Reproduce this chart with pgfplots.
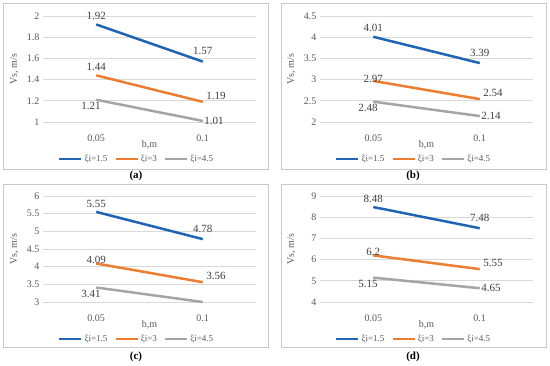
\documentclass[border=0pt]{standalone}
\usepackage{pgfplots}
\pgfplotsset{compat=1.18}
\usepackage{fontspec}
\setmainfont{Liberation Serif}
\definecolor{cblue}{RGB}{32,100,182}
\definecolor{corange}{RGB}{237,125,49}
\definecolor{cgray}{RGB}{165,165,165}
\definecolor{gridc}{RGB}{217,217,217}
\definecolor{tickc}{RGB}{89,89,89}
\definecolor{lblc}{RGB}{64,64,64}
\definecolor{boxc}{RGB}{200,200,200}
\pgfplotsset{panel/.style={
  scale only axis, width=213pt, height=106pt,
  xmin=-0.5, xmax=1.5, xtick={0,1}, xticklabels={0.05,0.1},
  axis line style={draw=none}, ymajorgrids,
  grid style={draw=gridc, line width=0.7pt},
  major tick length=0pt,
  tick label style={font=\fontsize{10}{11}\selectfont, text=tickc},
  xticklabel style={yshift=-9pt},
  /pgf/number format/assume math mode=true,
  ylabel={Vs, m/s}, xlabel={b,m},
  label style={font=\fontsize{10}{11}\selectfont, text=tickc},
  ylabel style={at={(axis description cs:-0.135,0.5)}, anchor=center},
  xlabel style={at={(axis description cs:0.5,-0.215)}, anchor=center},
  clip=false,
  legend style={draw=none, fill=none, legend columns=3,
    font=\fontsize{9}{10}\selectfont, text=tickc,
    at={(axis description cs:0.44,-0.35)}, anchor=center,
    /tikz/every even column/.append style={column sep=5pt}},
  legend image code/.code={\draw[##1, line width=2.4pt] (0pt,0pt) -- (22pt,0pt);},
  every axis plot/.append style={line width=2.5pt, mark=none},
}}
\tikzset{lbl/.style={font=\fontsize{11}{12}\selectfont, text=lblc, inner sep=1.5pt},
  ab/.style={anchor=south, yshift=#1},
  ar/.style={anchor=south west, xshift=2pt, yshift=1pt},
  bl/.style={anchor=north east, xshift=6pt, yshift=-1pt},
  rt/.style={anchor=west}}
\begin{document}
\begin{tikzpicture}
\useasboundingbox (0,0) rectangle (550pt,-365pt);
\fill[white] (0,0) rectangle (550pt,-365pt);
\draw[boxc, line width=0.6pt] (3pt,-3pt) rectangle (268pt,-169pt);
\draw[boxc, line width=0.6pt] (281pt,-3pt) rectangle (546pt,-169pt);
\draw[boxc, line width=0.6pt] (3pt,-184pt) rectangle (268pt,-347pt);
\draw[boxc, line width=0.6pt] (281pt,-184pt) rectangle (546pt,-347pt);
\node[font=\bfseries\fontsize{11}{12}\selectfont] at (136pt,-176pt) {(a)};
\node[font=\bfseries\fontsize{11}{12}\selectfont] at (413pt,-176pt) {(b)};
\node[font=\bfseries\fontsize{11}{12}\selectfont] at (136pt,-357pt) {(c)};
\node[font=\bfseries\fontsize{11}{12}\selectfont] at (413pt,-357pt) {(d)};

% (a)
\begin{axis}[panel, at={(43pt,-122pt)}, anchor=south west,
  ymin=1, ymax=2, ytick={1,1.2,1.4,1.6,1.8,2}, yticklabels={1,1.2,1.4,1.6,1.8,2}]
\addplot[cblue] coordinates {(0,1.92) (1,1.57)};
\addplot[corange] coordinates {(0,1.44) (1,1.19)};
\addplot[cgray] coordinates {(0,1.21) (1,1.01)};
\legend{ξi=1.5, ξi=3, ξi=4.5}
\node[lbl, ab=3pt] at (axis cs:0,1.92) {1.92};
\node[lbl, ab=5pt] at (axis cs:1,1.57) {1.57};
\node[lbl, ab=3pt] at (axis cs:0,1.44) {1.44};
\node[lbl, ar] at (axis cs:1,1.19) {1.19};
\node[lbl, bl] at (axis cs:0,1.21) {1.21};
\node[lbl, rt] at (axis cs:1,1.01) {1.01};
\end{axis}

% (b)
\begin{axis}[panel, at={(320pt,-122pt)}, anchor=south west,
  ymin=2, ymax=4.5, ytick={2,2.5,3,3.5,4,4.5}, yticklabels={2,2.5,3,3.5,4,4.5}]
\addplot[cblue] coordinates {(0,4.01) (1,3.39)};
\addplot[corange] coordinates {(0,2.97) (1,2.54)};
\addplot[cgray] coordinates {(0,2.48) (1,2.14)};
\legend{ξi=1.5, ξi=3, ξi=4.5}
\node[lbl, ab=3pt] at (axis cs:0,4.01) {4.01};
\node[lbl, ab=5pt] at (axis cs:1,3.39) {3.39};
\node[lbl, ab=-3pt] at (axis cs:0,2.97) {2.97};
\node[lbl, ar] at (axis cs:1,2.54) {2.54};
\node[lbl, bl] at (axis cs:0,2.48) {2.48};
\node[lbl, rt] at (axis cs:1,2.14) {2.14};
\end{axis}

% (c)
\begin{axis}[panel, at={(43pt,-302pt)}, anchor=south west,
  ymin=3, ymax=6, ytick={3,3.5,4,4.5,5,5.5,6}, yticklabels={3,3.5,4,4.5,5,5.5,6}]
\addplot[cblue] coordinates {(0,5.55) (1,4.78)};
\addplot[corange] coordinates {(0,4.09) (1,3.56)};
\addplot[cgray] coordinates {(0,3.41) (1,3.00)};
\legend{ξi=1.5, ξi=3, ξi=4.5}
\node[lbl, ab=3pt] at (axis cs:0,5.55) {5.55};
\node[lbl, ab=5pt] at (axis cs:1,4.78) {4.78};
\node[lbl, ab=-2pt] at (axis cs:0,4.09) {4.09};
\node[lbl, ar] at (axis cs:1,3.56) {3.56};
\node[lbl, bl] at (axis cs:0,3.41) {3.41};
\end{axis}

% (d)
\begin{axis}[panel, at={(320pt,-302pt)}, anchor=south west,
  ymin=4, ymax=9, ytick={4,5,6,7,8,9}]
\addplot[cblue] coordinates {(0,8.48) (1,7.48)};
\addplot[corange] coordinates {(0,6.2) (1,5.55)};
\addplot[cgray] coordinates {(0,5.15) (1,4.65)};
\legend{ξi=1.5, ξi=3, ξi=4.5}
\node[lbl, ab=3pt] at (axis cs:0,8.48) {8.48};
\node[lbl, ab=5pt] at (axis cs:1,7.48) {7.48};
\node[lbl, ab=-2pt] at (axis cs:0,6.2) {6.2};
\node[lbl, ar] at (axis cs:1,5.55) {5.55};
\node[lbl, bl] at (axis cs:0,5.15) {5.15};
\node[lbl, rt] at (axis cs:1,4.65) {4.65};
\end{axis}
\end{tikzpicture}
\end{document}
